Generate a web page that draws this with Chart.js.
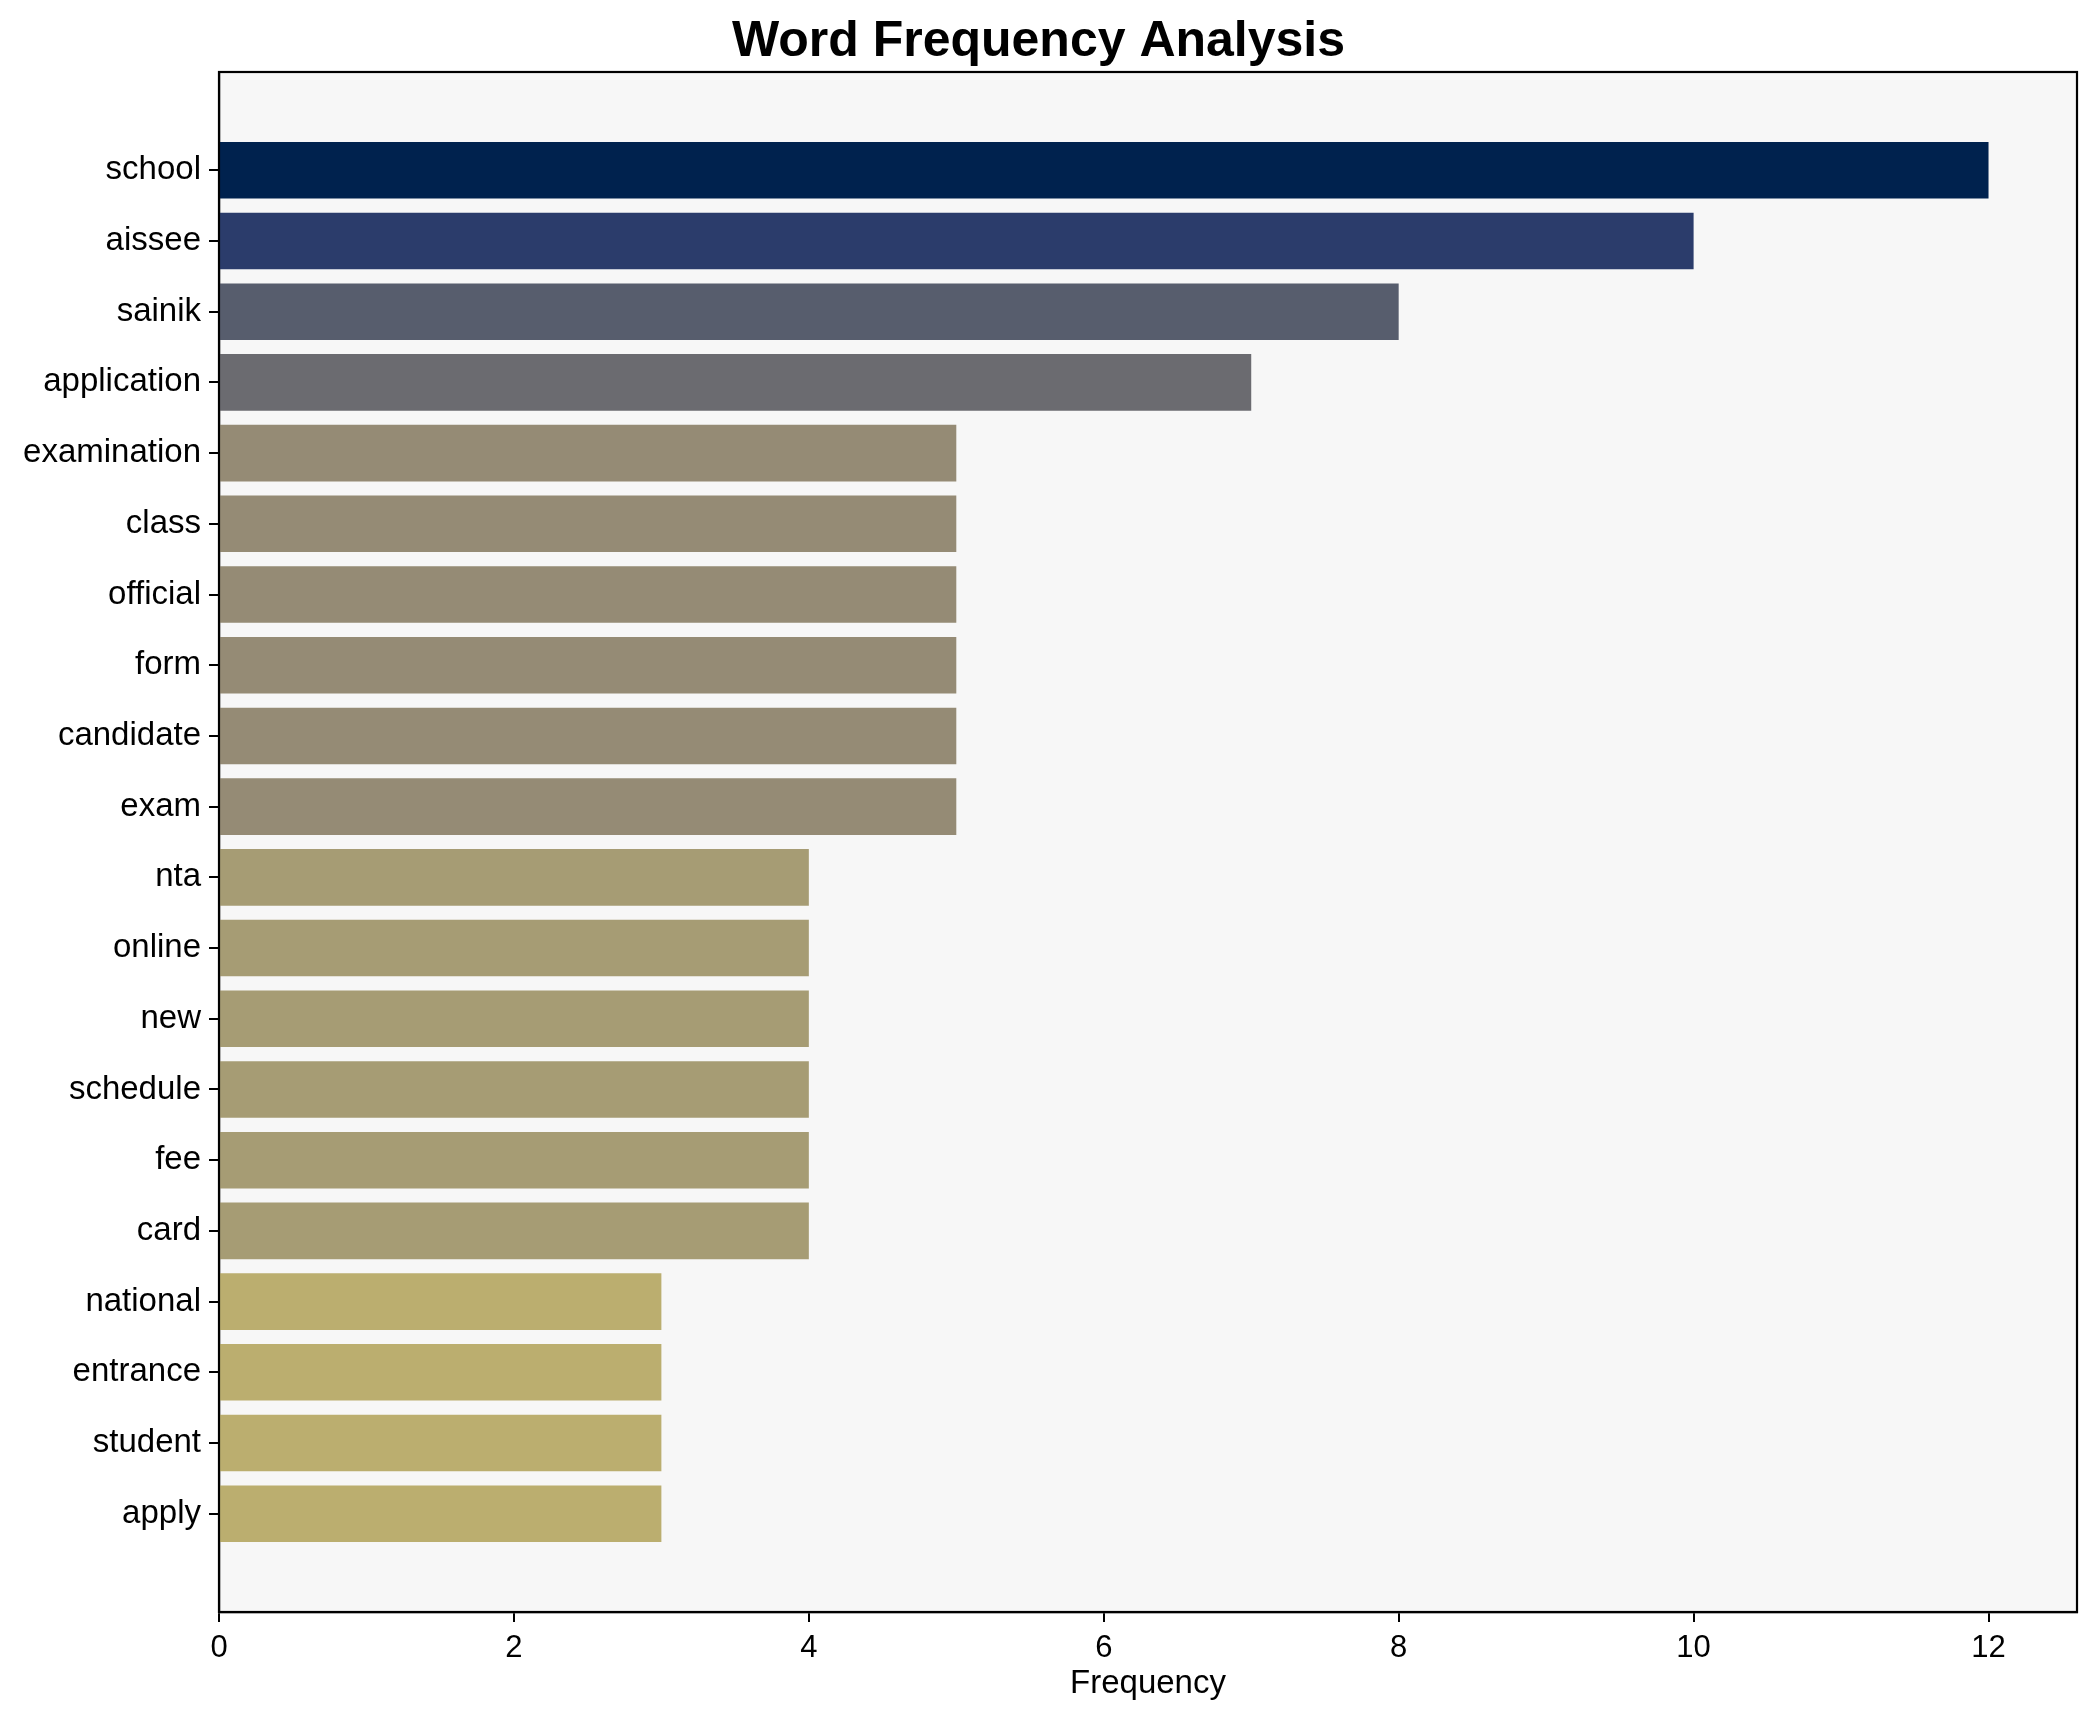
<!DOCTYPE html>
<html>
<head>
<meta charset="utf-8">
<script src="https://cdn.jsdelivr.net/npm/chart.js@4/dist/chart.umd.min.js"></script>
<style>
  html, body { margin: 0; padding: 0; background: #fff; }
  canvas { display: block; }
</style>
</head>
<body>
<canvas id="chart" width="2099" height="1722"></canvas>
<script>
// words and counts, top to bottom
var words = ['school', 'aissee', 'sainik', 'application', 'examination', 'class',
	'official', 'form', 'candidate', 'exam', 'nta', 'online', 'new', 'schedule',
	'fee', 'card', 'national', 'entrance', 'student', 'apply'];
var freqs = [12, 10, 8, 7, 5, 5, 5, 5, 5, 5, 4, 4, 4, 4, 4, 4, 3, 3, 3, 3];
var xTicks = [0, 2, 4, 6, 8, 10, 12];

// colour per count (cividis-like, darker = higher)
var colorFor = {12: '#00224E', 10: '#2B3C6B', 8: '#575D6D', 7: '#6B6B70', 5: '#958B75', 4: '#A69C74', 3: '#BBAE6F'};

var FONT = "'Liberation Sans', Arial, sans-serif";

var frame = {
	id: 'frame',
	beforeDraw: function(c) {
		var a = c.chartArea, ctx = c.ctx;
		ctx.save();
		ctx.fillStyle = '#F7F7F7';
		ctx.fillRect(a.left, a.top, a.right - a.left, a.bottom - a.top);
		ctx.restore();
	},
	afterDraw: function(c) {
		var a = c.chartArea, ctx = c.ctx;
		ctx.save();
		ctx.strokeStyle = '#000';
		ctx.lineWidth = 2.2;
		ctx.strokeRect(a.left, a.top, a.right - a.left, a.bottom - a.top);
		ctx.restore();
	}
};

var ctx = document.getElementById('chart');
var chart = new Chart(ctx, {
	type: 'bar',
	data: {
		datasets: [{
			data: words.map(function(w, i) { return {x: freqs[i], y: i}; }),
			backgroundColor: freqs.map(function(v) { return colorFor[v]; }),
			borderWidth: 0,
			barPercentage: 0.8,
			categoryPercentage: 1.0
		}]
	},
	plugins: [frame],
	options: {
		indexAxis: 'y',
		responsive: false,
		animation: false,
		devicePixelRatio: 1,
		layout: { padding: { left: 0, right: 22, top: 0, bottom: 0 } },
		plugins: {
			legend: { display: false },
			tooltip: { enabled: false },
			title: {
				display: true,
				text: 'Word Frequency Analysis',
				color: '#000',
				font: { family: FONT, size: 50, weight: 'bold' },
				padding: { top: 12, bottom: 0 }
			}
		},
		scales: {
			y: {
				type: 'linear',
				reverse: true,
				offset: false,
				min: -1.39,
				max: 20.39,
				afterBuildTicks: function(s) {
					s.ticks = words.map(function(w, i) { return {value: i}; });
				},
				afterFit: function(s) { s.width = 219; },
				ticks: {
					color: '#000',
					font: { family: FONT, size: 33 },
					padding: 8,
					callback: function(v) { return words[v]; }
				},
				grid: { offset: false, drawOnChartArea: false, drawTicks: true, tickLength: 10, color: '#000', lineWidth: 2 },
				border: { display: true, color: '#000', width: 2.2 }
			},
			x: {
				type: 'linear',
				min: 0,
				max: 12.6,
				afterBuildTicks: function(s) {
					s.ticks = xTicks.map(function(v) { return {value: v}; });
				},
				afterFit: function(s) { s.height = 110; },
				ticks: {
					color: '#000',
					font: { family: FONT, size: 31 },
					padding: 8
				},
				title: {
					display: true,
					text: 'Frequency',
					color: '#000',
					font: { family: FONT, size: 33 },
					padding: { top: 0, bottom: 18 }
				},
				grid: { drawOnChartArea: false, drawTicks: true, tickLength: 10, color: '#000', lineWidth: 2 },
				border: { display: true, color: '#000', width: 2.2 }
			}
		}
	}
});
</script>
</body>
</html>
